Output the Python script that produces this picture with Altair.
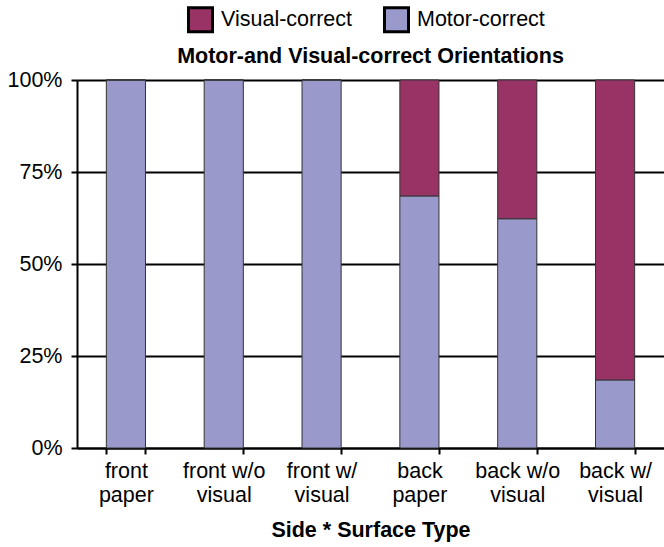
import altair as alt
import pandas as pd

# Side * surface type conditions (line break marks the two-line axis label)
categories = [
    "front\npaper",
    "front w/o\nvisual",
    "front w/\nvisual",
    "back\npaper",
    "back w/o\nvisual",
    "back w/\nvisual",
]
# Percent of orientations per condition
motor_correct = [100.0, 100.0, 100.0, 68.5, 62.3, 18.5]
visual_correct = [0.0, 0.0, 0.0, 31.5, 37.7, 81.5]

series_names = ["Visual-correct", "Motor-correct"]
series_colors = ["#993366", "#9999CC"]

rows = []
for cat, m, v in zip(categories, motor_correct, visual_correct):
    rows.append({"condition": cat, "kind": "Motor-correct", "pct": m, "stack_order": 0})
    rows.append({"condition": cat, "kind": "Visual-correct", "pct": v, "stack_order": 1})
df = pd.DataFrame(rows)

FONT = "Liberation Sans"
LABEL_SIZE = 21.5
TITLE_SIZE = 21.5

chart = (
    alt.Chart(df)
    .mark_bar(stroke="#333333", strokeWidth=1)
    .encode(
        x=alt.X(
            "condition:N",
            sort=categories,
            scale=alt.Scale(paddingInner=0.6, paddingOuter=0.3),
            axis=alt.Axis(
                title="Side * Surface Type",
                labelAngle=0,
                labelExpr="isValid(datum.value) ? split(datum.value, '\\n') : ''",
                labelLineHeight=24,
                labelPadding=6,
                labelFontSize=LABEL_SIZE,
                labelColor="black",
                labelFont=FONT,
                tickBand="extent",
                tickSize=6,
                tickWidth=2,
                tickColor="black",
                domainColor="black",
                domainWidth=2,
                grid=False,
                titleFont=FONT,
                titleFontSize=TITLE_SIZE,
                titleFontWeight="bold",
                titleColor="black",
                titlePadding=14,
            ),
        ),
        y=alt.Y(
            "pct:Q",
            stack="zero",
            scale=alt.Scale(domain=[0, 100], nice=False),
            axis=alt.Axis(
                title=None,
                values=[0, 25, 50, 75, 100],
                labelExpr="datum.value + '%'",
                labelFontSize=LABEL_SIZE,
                labelFont=FONT,
                labelColor="black",
                labelPadding=9,
                tickSize=6,
                tickWidth=2,
                tickColor="black",
                domainColor="black",
                domainWidth=2,
                gridColor="black",
                gridWidth=2,
                gridOpacity=1,
            ),
        ),
        color=alt.Color(
            "kind:N",
            scale=alt.Scale(domain=series_names, range=series_colors),
            legend=alt.Legend(
                title=None,
                orient="none",
                direction="horizontal",
                legendX=110,
                legendY=-74,
                symbolType="square",
                symbolSize=576,
                symbolStrokeColor="black",
                symbolStrokeWidth=3,
                symbolOpacity=1,
                labelFont=FONT,
                labelFontSize=LABEL_SIZE,
                labelColor="black",
                labelOffset=7,
                columnPadding=25,
            ),
        ),
        order=alt.Order("stack_order:Q"),
    )
    .properties(
        width=587,
        height=368,
        title=alt.TitleParams(
            "Motor-and Visual-correct Orientations",
            font=FONT,
            fontSize=TITLE_SIZE,
            fontWeight="bold",
            color="black",
            anchor="middle",
            offset=13,
            dy=74,
        ),
        autosize="none",
        padding={"left": 77, "top": 80, "right": 0, "bottom": 99},
    )
    .configure_view(stroke=None)
    .configure(background="white")
)

chart.save("out.html", embed_options={"renderer": "svg", "actions": False})
